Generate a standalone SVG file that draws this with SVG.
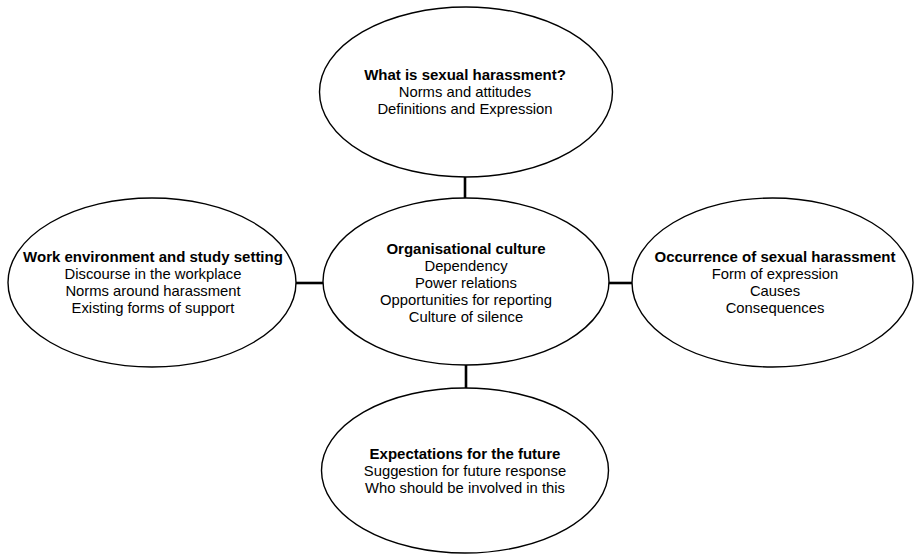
<svg xmlns="http://www.w3.org/2000/svg" width="914" height="554" viewBox="0 0 914 554">
  <style>
    .node ellipse { fill: #ffffff; stroke: #000000; stroke-width: 1.4; }
    .node text { font-family: "Liberation Sans", Arial, sans-serif; font-size: 14.8px; fill: #000000; text-anchor: middle; }
    .node text.title { font-weight: bold; font-size: 15px; }
    #connectors line { stroke: #000000; stroke-width: 2.6; }
  </style>
  <rect width="914" height="554" fill="#ffffff"/>

  <!-- spokes joining the hub to the four themes -->
  <g id="connectors">
    <line x1="465" y1="177" x2="465" y2="198"/>
    <line x1="296" y1="283" x2="323" y2="283"/>
    <line x1="609" y1="283" x2="632" y2="283"/>
    <line x1="466" y1="365" x2="466" y2="388"/>
  </g>

  <g id="node-definition" class="node">
    <ellipse cx="466" cy="92" rx="146.5" ry="85"/>
    <text class="title" x="465" y="80">What is sexual harassment?</text>
    <text x="465" y="97">Norms and attitudes</text>
    <text x="465" y="114">Definitions and Expression</text>
  </g>

  <g id="node-culture" class="node">
    <ellipse cx="466" cy="281.5" rx="143" ry="83.5"/>
    <text class="title" x="466" y="254">Organisational culture</text>
    <text x="466" y="271">Dependency</text>
    <text x="466" y="288">Power relations</text>
    <text x="466" y="305">Opportunities for reporting</text>
    <text x="466" y="322">Culture of silence</text>
  </g>

  <g id="node-environment" class="node">
    <ellipse cx="152" cy="282.5" rx="144" ry="84.5"/>
    <text class="title" x="153" y="262">Work environment and study setting</text>
    <text x="153" y="279">Discourse in the workplace</text>
    <text x="153" y="296">Norms around harassment</text>
    <text x="153" y="313">Existing forms of support</text>
  </g>

  <g id="node-occurrence" class="node">
    <ellipse cx="772.5" cy="282.5" rx="140.5" ry="84.5"/>
    <text class="title" x="775" y="262">Occurrence of sexual harassment</text>
    <text x="775" y="279">Form of expression</text>
    <text x="775" y="296">Causes</text>
    <text x="775" y="313">Consequences</text>
  </g>

  <g id="node-future" class="node">
    <ellipse cx="465" cy="470.5" rx="143.5" ry="82.5"/>
    <text class="title" x="465" y="459">Expectations for the future</text>
    <text x="465" y="476">Suggestion for future response</text>
    <text x="465" y="493">Who should be involved in this</text>
  </g>
</svg>
